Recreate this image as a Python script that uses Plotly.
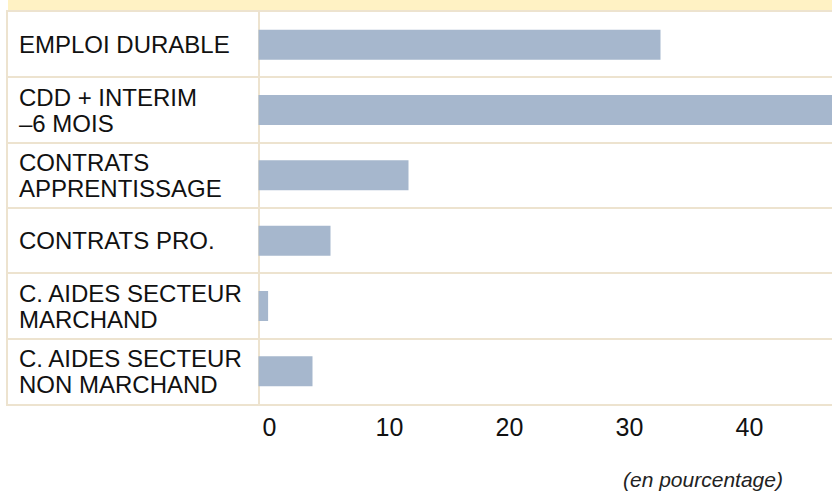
import plotly.graph_objects as go

# ---- data ----
categories = [
    "EMPLOI DURABLE",
    "CDD + INTERIM<br>–6 MOIS",
    "CONTRATS<br>APPRENTISSAGE",
    "CONTRATS PRO.",
    "C. AIDES SECTEUR<br>MARCHAND",
    "C. AIDES SECTEUR<br>NON MARCHAND",
]
values = [33.5, 49.0, 12.5, 6.0, 0.8, 4.5]
tick_values = [0, 10, 20, 30, 40]
tick_labels = ["0", "10", "20", "30", "40"]
unit_note = "(en pourcentage)"

# ---- style ----
BAR = "#A6B7CD"
LINE = "#EDE3CF"
BAND = "#FFF2C4"
FONT = "Liberation Sans, Arial, sans-serif"
LABEL_SIZE = 24
LINE_GAP = 26

W, H = 832, 491
M_L, M_R, M_T, M_B = 8, 0, 12, 87
plot_w = W - M_L - M_R
plot_h = H - M_T - M_B
px_per_unit = 12.0
zero_px = 250.5  # distance of the zero line from the plot's left edge
x0 = -zero_px / px_per_unit
x1 = x0 + plot_w / px_per_unit

fig = go.Figure(
    go.Bar(
        x=values,
        y=categories,
        orientation="h",
        marker=dict(color=BAR, line=dict(width=0)),
        hoverinfo="x+y",
    )
)

annotations = []
for c in categories:
    lines = c.split("<br>")
    n = len(lines)
    for i, part in enumerate(lines):
        annotations.append(
            dict(
                text=part,
                xref="paper",
                x=(17 - M_L) / plot_w,
                xanchor="left",
                yref="y",
                y=c,
                yanchor="middle",
                yshift=((n - 1) / 2 - i) * LINE_GAP,
                align="left",
                showarrow=False,
                font=dict(family=FONT, size=LABEL_SIZE, color="#111111"),
            )
        )
annotations.append(
    dict(
        text="<i>" + unit_note + "</i>",
        xref="paper",
        x=(785 - M_L) / plot_w,
        xanchor="right",
        yref="paper",
        y=-(480 - (H - M_B)) / plot_h,
        yanchor="middle",
        showarrow=False,
        font=dict(family=FONT, size=21, color="#222222"),
    )
)

fig.update_layout(
    width=W,
    height=H,
    margin=dict(l=M_L, r=M_R, t=M_T, b=M_B, pad=0),
    paper_bgcolor="white",
    plot_bgcolor="white",
    showlegend=False,
    bargap=0.54,
    font=dict(family=FONT, color="#111111"),
    xaxis=dict(
        range=[x0, x1],
        tickvals=tick_values,
        ticktext=tick_labels,
        tickfont=dict(family=FONT, size=25, color="#111111"),
        ticks="",
        ticklabelshift=11,
        ticklabelstandoff=0,
        showgrid=False,
        zeroline=True,
        zerolinecolor=LINE,
        zerolinewidth=2,
        showline=True,
        linecolor=LINE,
        linewidth=2,
        mirror=True,
        fixedrange=True,
    ),
    yaxis=dict(
        type="category",
        categoryorder="array",
        categoryarray=categories,
        autorange="reversed",
        tickson="boundaries",
        showgrid=True,
        gridcolor=LINE,
        gridwidth=2,
        showticklabels=False,
        ticks="",
        showline=True,
        linecolor=LINE,
        linewidth=2,
        fixedrange=True,
    ),
    shapes=[
        dict(
            type="rect",
            xref="paper",
            yref="paper",
            x0=0,
            x1=1,
            y0=1 + 1 / plot_h,
            y1=1 + (M_T + 2) / plot_h,
            fillcolor=BAND,
            line=dict(width=0),
            layer="below",
        )
    ],
    annotations=annotations,
)

fig.write_html(
    "out.html",
    config={"displayModeBar": False},
    post_script="document.body.style.margin='0';document.body.style.overflow='hidden';",
)
